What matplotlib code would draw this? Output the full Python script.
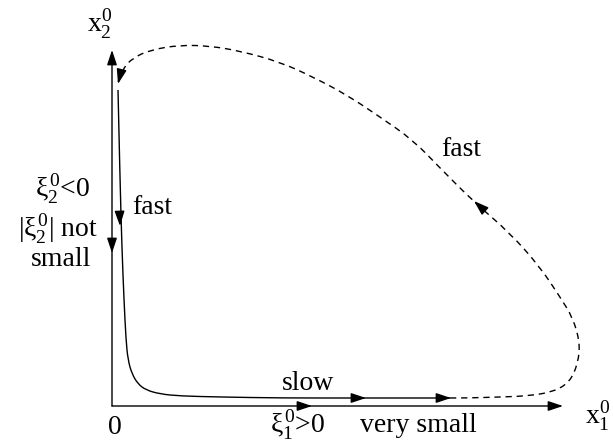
import numpy as np
import matplotlib
matplotlib.use("Agg")
import matplotlib.pyplot as plt
from matplotlib.patches import FancyArrowPatch, PathPatch
from matplotlib.path import Path

plt.rcParams['font.family'] = ['Liberation Serif', 'DejaVu Serif']
plt.rcParams['mathtext.fontset'] = 'custom'
plt.rcParams['mathtext.rm'] = 'Liberation Serif'
plt.rcParams['mathtext.it'] = 'Liberation Serif'

# picture is drawn in pixel coordinates (y grows downward)
origin = (112, 406)
x_axis_end = 563
y_axis_end = 50

# solid trajectory: fast drop, then slow drift along x1
solid_x = [118, 120, 122, 124, 126, 128, 132, 138, 146, 160, 180, 220, 280, 360, 450]
solid_y = [90, 180, 250, 300, 340, 360, 374, 384, 390, 394, 396, 397, 398, 398, 398]

# dashed return loop
dash_x = [450, 467, 500, 527, 553, 570, 578, 580, 573, 560, 540, 510, 474, 440, 413,
          380, 347, 313, 280, 240, 210, 180, 150, 133, 123, 118]
dash_y = [398, 398, 397, 396, 392, 382, 363, 343, 318, 297, 267, 233, 202, 168, 140,
          117, 95, 77, 62, 51, 46, 45, 50, 58, 68, 82]

# arrowheads: (tip x, tip y, direction x, direction y)
heads = [
    (112, 253, 0, 1),
    (312, 406, 1, 0),
    (120, 226, 0.03, 1),
    (366, 398, 1, 0),
    (451, 398, 1, 0),
    (474, 201, -1.1, -1),
    (118, 84, -0.25, 1),
]

labels = [
    (r'$x_2^0$', 100, 24),
    (r'$x_1^0$', 598, 416),
    ('0', 115, 428),
    (r'$\xi_1^0$>0', 298, 425),
    ('very small', 418, 426),
    ('slow', 308, 384),
    ('fast', 152, 207),
    ('fast', 461, 149),
    (r'$\xi_2^0$<0', 63, 189),
    (r'|$\xi_2^0$| not', 58, 229),
    ('small', 61, 259),
]

fig = plt.figure(figsize=(6.13, 4.41), dpi=100)
ax = fig.add_axes([0, 0, 1, 1])
ax.set_xlim(0, 613)
ax.set_ylim(441, 0)
ax.axis('off')


def arrow(ax, start, end, hl=0.9, hw=0.3):
    a = FancyArrowPatch(start, end, arrowstyle='-|>,head_length=%s,head_width=%s' % (hl, hw),
                        mutation_scale=10, lw=1.0, color='black', shrinkA=0, shrinkB=0)
    ax.add_patch(a)


def smooth_path(xs, ys):
    # quadratic bezier through midpoints, so corners get rounded
    p = np.column_stack([xs, ys]).astype(float)
    verts = [p[0]]
    codes = [Path.MOVETO]
    for i in range(1, len(p) - 1):
        mid = (p[i] + p[i + 1]) / 2
        if i == len(p) - 2:
            mid = p[i + 1]
        verts += [p[i], mid]
        codes += [Path.CURVE3, Path.CURVE3]
    return Path(verts, codes)


# axes
arrow(ax, origin, (x_axis_end, origin[1]))
arrow(ax, origin, (origin[0], y_axis_end))

ax.add_patch(PathPatch(smooth_path(solid_x, solid_y), fill=False, color='black', lw=1.0))
ax.add_patch(PathPatch(smooth_path(dash_x, dash_y), fill=False, color='black', lw=1.0,
                       linestyle=(0, (4.5, 3.5))))

for tx, ty, dx, dy in heads:
    n = np.hypot(dx, dy)
    arrow(ax, (tx - 6 * dx / n, ty - 6 * dy / n), (tx, ty))

for s, x, y in labels:
    ax.text(x, y, s, fontsize=20, ha='center', va='center')

fig.savefig('out.png', dpi=100)
